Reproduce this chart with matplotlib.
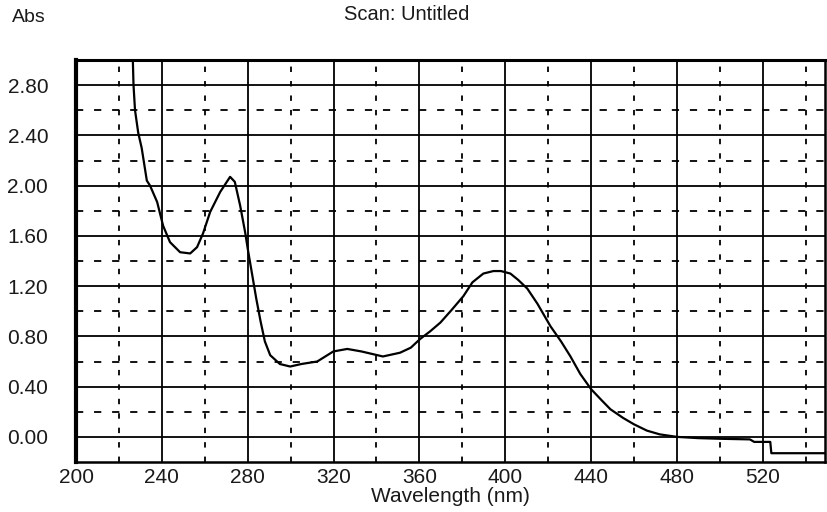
import matplotlib
matplotlib.use("Agg")
import matplotlib.pyplot as plt
import numpy as np

plt.rcParams["font.family"] = ["Liberation Sans", "DejaVu Sans"]

# spectrum
wavelength = [226.4, 226.8, 227.5, 229.0, 230.6, 233.0, 234.5, 237.8, 240.6, 243.8,
              248.5, 253.2, 256.4, 259.2, 262.5, 267.2, 271.8, 274.0, 276.5, 278.8,
              280.0, 282.0, 284.0, 286.0, 288.0, 290.5, 295.0, 299.8, 305.0, 312.4,
              319.9, 326.4, 333.0, 343.0, 351.0, 356.0, 360.4, 365.0, 369.8, 375.0,
              380.5, 384.7, 389.8, 394.5, 398.0, 402.4, 406.0, 410.3, 415.0, 421.1,
              426.0, 430.4, 435.0, 440.0, 445.0, 449.0, 455.0, 460.0, 466.0, 472.0,
              480.0, 490.0, 500.0, 514.0, 516.0, 523.5, 524.0, 550.0]
absorbance = [3.05, 2.80, 2.60, 2.42, 2.30, 2.04, 2.00, 1.87, 1.68, 1.55,
              1.47, 1.46, 1.51, 1.62, 1.79, 1.95, 2.07, 2.03, 1.84, 1.63,
              1.50, 1.30, 1.10, 0.92, 0.76, 0.65, 0.58, 0.56, 0.58, 0.60,
              0.68, 0.70, 0.68, 0.64, 0.67, 0.71, 0.78, 0.84, 0.91, 1.01,
              1.12, 1.23, 1.30, 1.32, 1.32, 1.30, 1.25, 1.18, 1.06, 0.88,
              0.76, 0.64, 0.50, 0.38, 0.29, 0.22, 0.15, 0.10, 0.05, 0.02,
              0.00, -0.01, -0.015, -0.02, -0.04, -0.04, -0.13, -0.13]

x_ticks = [200, 240, 280, 320, 360, 400, 440, 480, 520]
x_minor = [220, 260, 300, 340, 380, 420, 460, 500, 540]
y_ticks = [0.00, 0.40, 0.80, 1.20, 1.60, 2.00, 2.40, 2.80]
y_minor = [0.20, 0.60, 1.00, 1.40, 1.80, 2.20, 2.60]

fig = plt.figure(figsize=(8.28, 5.12), dpi=100)
ax = fig.add_axes([76 / 828, 1 - 462 / 512, 749 / 828, 402 / 512])

ax.set_xlim(200, 549)
ax.set_ylim(-0.2, 3.0)

# grid: solid at labelled values, dashed in between
for v in x_ticks[1:]:
    ax.axvline(v, color="black", lw=1.3, zorder=1)
for v in x_minor:
    ax.axvline(v, color="black", lw=1.3, ls=(0, (3, 5)), zorder=1)
for v in y_ticks:
    ax.axhline(v, color="black", lw=1.3, zorder=1)
for v in y_minor:
    ax.axhline(v, color="black", lw=1.3, ls=(0, (4, 6)), zorder=1)

ax.plot(wavelength, absorbance, color="black", lw=1.6, zorder=3)

ax.set_xticks(x_ticks)
ax.set_xticklabels([str(v) for v in x_ticks])
ax.set_yticks(y_ticks)
ax.set_yticklabels([f"{v:.2f}" for v in y_ticks])
ax.tick_params(length=0, labelsize=15, colors="#1a1a1a")
ax.tick_params(axis="x", pad=4)
ax.tick_params(axis="y", pad=20)

ax.set_xlabel("Wavelength (nm)", fontsize=15, labelpad=0, color="#1a1a1a")

for side in ["bottom", "right"]:
    ax.spines[side].set_linewidth(1.8)
ax.spines["top"].set_linewidth(2.2)
ax.spines["left"].set_linewidth(3.0)

fig.text(407 / 828, 1 - 14 / 512, "Scan: Untitled", ha="center", va="center",
         fontsize=14.5, color="#1a1a1a")
fig.text(12 / 828, 1 - 17 / 512, "Abs", ha="left", va="center",
         fontsize=14, color="#1a1a1a")

fig.savefig("out.png", dpi=100)
